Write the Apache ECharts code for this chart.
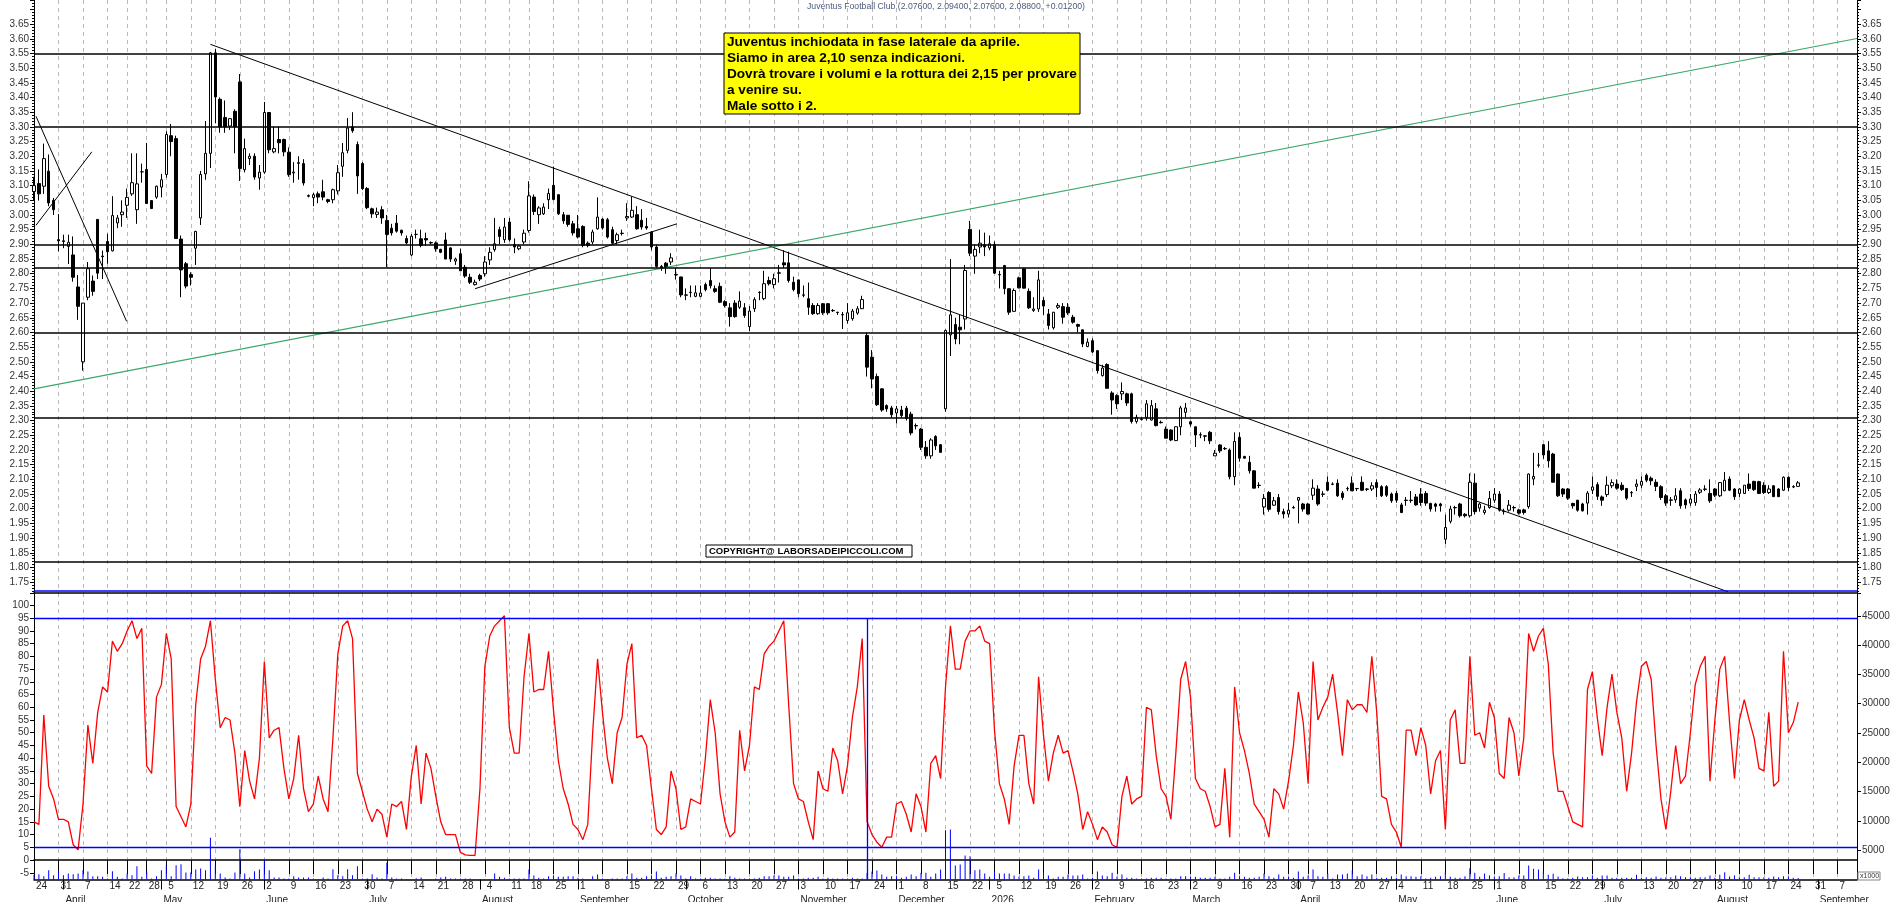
<!DOCTYPE html>
<html>
<head>
<meta charset="utf-8">
<title>Juventus Football Club</title>
<script src="https://cdn.jsdelivr.net/npm/echarts@6/dist/echarts.min.js"></script>
<style>
    html, body {
        height: 100%;
        width: 100%;
        margin: 0;
        padding: 0;
        background: #fff;
    }
    #chart {
        width: 100%;
        height: 100%;
    }
</style>
</head>
<body>
<div id="chart"></div>
<script>
/* trading calendar: first bar, exchange holidays, number of slots on the axis */
var firstDay = [2025, 3, 24];
var holidays = ['2025-04-18', '2025-04-21', '2025-05-01', '2025-08-15', '2025-12-24', '2025-12-25',
    '2025-12-26', '2025-12-31', '2026-01-01', '2026-04-03', '2026-04-06', '2026-05-01'];
var slotCount = 373;
var monthNames = ['January', 'February', 'March', 'April', 'May', 'June', 'July', 'August',
    'September', 'October', 'November', 'December'];

/* daily candles: [open, close, low, high] */
var candles = [
    // 24 Mar
    [3.08,3.10,3.05,3.13],[3.107,3.072,3.049,3.155],[3.098,3.192,3.072,3.243],[3.149,3.041,3.03,3.206],[3.05,3.018,3.0,3.058],
    // 31 Mar
    [2.916,2.912,2.876,3.003],[2.912,2.91,2.887,2.933],[2.893,2.907,2.833,2.933],[2.864,2.788,2.773,2.927],[2.755,2.689,2.643,2.796],
    // 7 Apr
    [2.50,2.70,2.47,2.70],[2.72,2.817,2.71,2.84],[2.775,2.74,2.725,2.794],[2.985,2.802,2.782,2.985],[2.86,2.858,2.782,2.879],
    // 14 Apr
    [2.91,2.875,2.834,2.936],[2.878,2.998,2.876,3.064],[2.973,2.99,2.955,3.0],[3.001,3.01,2.96,3.05],
    // 22 Apr
    [3.033,3.06,2.99,3.09],[3.072,3.11,3.065,3.21],[3.018,3.106,2.97,3.21],[3.147,3.147,3.11,3.175],
    // 28 Apr
    [3.155,3.039,3.038,3.245],[3.049,3.022,3.02,3.05],[3.061,3.098,3.055,3.10],[3.095,3.12,3.06,3.14],
    // 5 May
    [3.138,3.274,3.127,3.285],[3.27,3.25,3.20,3.31],[3.26,2.92,2.92,3.27],[2.918,2.813,2.72,2.93],[2.834,2.758,2.75,2.84],
    // 12 May
    [2.797,2.788,2.76,2.805],[2.887,2.944,2.83,2.946],[2.99,3.138,2.966,3.15],[3.14,3.21,3.12,3.32],[3.21,3.552,3.16,3.555],
    // 19 May
    [3.552,3.402,3.313,3.565],[3.394,3.30,3.28,3.40],[3.332,3.30,3.28,3.39],[3.303,3.328,3.29,3.33],[3.353,3.30,3.21,3.36],
    // 26 May
    [3.453,3.158,3.116,3.48],[3.154,3.226,3.145,3.26],[3.192,3.20,3.17,3.21],[3.20,3.129,3.12,3.21],[3.126,3.146,3.086,3.17],
    // 2 Jun
    [3.146,3.349,3.14,3.385],[3.349,3.222,3.21,3.35],[3.215,3.226,3.21,3.30],[3.257,3.246,3.21,3.30],[3.257,3.215,3.20,3.26],
    // 9 Jun
    [3.214,3.137,3.13,3.23],[3.143,3.146,3.11,3.18],[3.178,3.176,3.12,3.20],[3.175,3.109,3.10,3.19],[3.066,3.064,3.06,3.07],
    // 16 Jun
    [3.059,3.069,3.03,3.075],[3.072,3.061,3.04,3.08],[3.079,3.061,3.05,3.12],[3.052,3.046,3.04,3.055],[3.052,3.086,3.04,3.09],
    // 23 Jun
    [3.082,3.144,3.07,3.17],[3.166,3.212,3.13,3.245],[3.22,3.296,3.21,3.33],[3.30,3.287,3.28,3.35],[3.24,3.133,3.072,3.25],
    // 30 Jun
    [3.175,3.09,3.085,3.18],[3.09,3.025,3.02,3.095],[3.021,3.004,2.99,3.025],[3.002,3.01,2.99,3.025],[3.018,2.99,2.97,3.03],
    // 7 Jul
    [2.981,2.934,2.823,3.0],[2.955,2.939,2.93,2.97],[2.972,2.945,2.94,3.0],[2.948,2.939,2.93,2.95],[2.92,2.905,2.90,2.93],
    // 14 Jul
    [2.864,2.928,2.86,2.935],[2.934,2.934,2.92,2.95],[2.919,2.896,2.89,2.95],[2.92,2.915,2.895,2.94],[2.906,2.905,2.90,2.91],
    // 21 Jul
    [2.905,2.885,2.875,2.91],[2.883,2.873,2.87,2.885],[2.915,2.85,2.85,2.94],[2.888,2.85,2.84,2.89],[2.843,2.85,2.83,2.855],
    // 28 Jul
    [2.868,2.81,2.81,2.885],[2.822,2.792,2.786,2.83],[2.788,2.771,2.765,2.80],[2.763,2.771,2.76,2.78],[2.794,2.782,2.775,2.80],
    // 4 Aug
    [2.80,2.84,2.79,2.86],[2.847,2.873,2.83,2.89],[2.882,2.902,2.875,2.99],[2.95,2.927,2.90,2.96],[2.916,2.959,2.905,2.99],
    // 11 Aug
    [2.976,2.916,2.91,2.99],[2.90,2.891,2.87,2.92],[2.885,2.894,2.88,2.90],[2.908,2.938,2.90,2.95],
    // 18 Aug
    [2.947,3.065,2.94,3.115],[3.061,3.012,3.0,3.07],[3.001,3.024,2.97,3.03],[3.004,3.027,3.0,3.04],[3.052,3.073,3.02,3.09],
    // 25 Aug
    [3.101,3.053,3.05,3.165],[3.069,3.004,3.0,3.07],[3.001,2.98,2.97,3.01],[2.999,2.968,2.96,3.0],[2.97,2.939,2.93,2.98],
    // 1 Sep
    [2.953,2.925,2.92,3.0],[2.961,2.896,2.89,2.965],[2.904,2.896,2.89,2.91],[2.908,2.942,2.90,2.95],[2.953,2.993,2.95,3.06],
    // 8 Sep
    [2.986,2.956,2.95,2.99],[2.984,2.925,2.92,2.99],[2.95,2.904,2.90,2.96],[2.913,2.933,2.90,2.94],[2.938,2.937,2.93,2.95],
    // 15 Sep
    [2.99,2.995,2.98,3.04],[2.993,3.016,2.99,3.063],[3.001,2.953,2.95,3.03],[2.982,2.959,2.95,3.02],[2.961,2.956,2.95,2.99],
    // 22 Sep
    [2.942,2.891,2.88,2.945],[2.891,2.825,2.82,2.90],[2.825,2.819,2.81,2.83],[2.836,2.823,2.80,2.84],[2.84,2.854,2.83,2.87],
    // 29 Sep
    [2.797,2.796,2.78,2.82],[2.789,2.728,2.72,2.79],[2.728,2.727,2.71,2.75],[2.737,2.736,2.72,2.76],[2.723,2.735,2.72,2.76],
    // 6 Oct
    [2.723,2.734,2.72,2.76],[2.763,2.746,2.74,2.77],[2.777,2.759,2.75,2.82],[2.749,2.74,2.735,2.76],[2.757,2.703,2.70,2.77],
    // 13 Oct
    [2.705,2.692,2.685,2.71],[2.684,2.654,2.62,2.70],[2.70,2.654,2.65,2.71],[2.686,2.707,2.68,2.74],[2.684,2.658,2.65,2.70],
    // 20 Oct
    [2.62,2.673,2.605,2.69],[2.681,2.712,2.67,2.72],[2.737,2.736,2.71,2.74],[2.715,2.766,2.71,2.81],[2.777,2.766,2.76,2.79],
    // 27 Oct
    [2.763,2.783,2.75,2.80],[2.803,2.802,2.77,2.83],[2.837,2.83,2.82,2.88],[2.837,2.777,2.77,2.875],[2.771,2.746,2.74,2.79],
    // 3 Nov
    [2.779,2.732,2.72,2.78],[2.728,2.727,2.72,2.76],[2.715,2.686,2.66,2.77],[2.692,2.664,2.66,2.70],[2.664,2.692,2.66,2.70],
    // 10 Nov
    [2.698,2.667,2.66,2.70],[2.698,2.667,2.66,2.70],[2.675,2.674,2.67,2.68],[2.669,2.668,2.66,2.67],[2.661,2.66,2.612,2.67],
    // 17 Nov
    [2.641,2.667,2.63,2.70],[2.647,2.673,2.64,2.68],[2.666,2.681,2.66,2.69],[2.681,2.712,2.68,2.725],[2.59,2.482,2.45,2.60],
    // 24 Nov
    [2.516,2.442,2.41,2.54],[2.45,2.354,2.35,2.46],[2.408,2.336,2.33,2.41],[2.351,2.34,2.33,2.355],[2.343,2.32,2.31,2.35],
    // 1 Dec
    [2.326,2.34,2.29,2.35],[2.336,2.317,2.31,2.35],[2.342,2.308,2.30,2.35],[2.322,2.258,2.25,2.33],[2.283,2.282,2.27,2.29],
    // 8 Dec
    [2.271,2.209,2.20,2.275],[2.209,2.18,2.17,2.23],[2.18,2.234,2.17,2.24],[2.246,2.214,2.20,2.25],[2.218,2.192,2.19,2.22],
    // 15 Dec
    [2.34,2.607,2.33,2.61],[2.592,2.66,2.52,2.85],[2.627,2.578,2.56,2.65],[2.618,2.609,2.56,2.66],[2.646,2.811,2.61,2.83],
    // 22 Dec - 2 Jan
    [2.951,2.87,2.86,2.98],[2.86,2.883,2.80,2.90],[2.891,2.904,2.87,2.95],[2.899,2.891,2.86,2.94],[2.888,2.902,2.88,2.93],
    // 5 Jan
    [2.90,2.802,2.80,2.91],[2.797,2.796,2.75,2.81],[2.828,2.749,2.73,2.83],[2.749,2.669,2.66,2.75],[2.672,2.743,2.67,2.75],
    // 12 Jan
    [2.786,2.752,2.75,2.79],[2.817,2.751,2.75,2.82],[2.74,2.684,2.68,2.75],[2.675,2.68,2.67,2.72],[2.68,2.779,2.67,2.81],
    // 19 Jan
    [2.709,2.69,2.66,2.72],[2.663,2.624,2.61,2.68],[2.616,2.669,2.61,2.67],[2.686,2.692,2.68,2.70],[2.688,2.652,2.63,2.70],
    // 26 Jan
    [2.686,2.667,2.66,2.70],[2.652,2.635,2.63,2.66],[2.627,2.621,2.60,2.63],[2.609,2.561,2.55,2.61],[2.552,2.567,2.55,2.58],
    // 2 Feb
    [2.572,2.534,2.53,2.58],[2.538,2.47,2.46,2.54],[2.453,2.479,2.45,2.49],[2.491,2.41,2.41,2.495],[2.394,2.37,2.32,2.40],
    // 9 Feb
    [2.385,2.357,2.34,2.39],[2.391,2.399,2.37,2.43],[2.391,2.36,2.35,2.395],[2.391,2.297,2.29,2.395],[2.297,2.311,2.29,2.32],
    // 16 Feb
    [2.305,2.304,2.30,2.31],[2.311,2.357,2.30,2.37],[2.302,2.351,2.30,2.37],[2.34,2.283,2.28,2.36],[2.294,2.293,2.29,2.30],
    // 23 Feb
    [2.271,2.24,2.24,2.28],[2.268,2.234,2.23,2.27],[2.232,2.279,2.23,2.28],[2.279,2.343,2.25,2.35],[2.328,2.343,2.31,2.36],
    // 2 Mar
    [2.296,2.288,2.28,2.30],[2.279,2.251,2.21,2.28],[2.252,2.251,2.24,2.26],[2.248,2.247,2.23,2.25],[2.26,2.231,2.22,2.265],
    // 9 Mar
    [2.18,2.189,2.18,2.20],[2.217,2.197,2.19,2.22],[2.205,2.204,2.20,2.21],[2.20,2.109,2.10,2.205],[2.109,2.229,2.08,2.26],
    // 16 Mar
    [2.243,2.172,2.16,2.26],[2.178,2.172,2.17,2.18],[2.158,2.129,2.12,2.18],[2.129,2.07,2.07,2.13],[2.08,2.079,2.07,2.09],
    // 23 Mar
    [2.006,2.035,1.98,2.05],[2.055,1.998,1.99,2.06],[2.012,2.027,2.01,2.04],[2.038,1.99,1.98,2.05],[1.99,1.982,1.967,2.00],
    // 30 Mar
    [1.982,1.995,1.97,2.02],[2.004,2.003,2.0,2.01],[2.029,2.038,1.95,2.04],[2.016,1.999,1.99,2.02],
    // 7 Apr
    [2.016,1.982,1.98,2.02],[2.046,2.07,2.03,2.10],[2.067,2.016,2.01,2.08],[2.05,2.049,2.04,2.06],
    // 13 Apr
    [2.09,2.063,2.06,2.11],[2.084,2.083,2.08,2.09],[2.087,2.044,2.04,2.10],[2.053,2.038,2.03,2.06],[2.069,2.068,2.06,2.075],
    // 20 Apr
    [2.087,2.061,2.06,2.11],[2.069,2.068,2.06,2.07],[2.09,2.063,2.06,2.11],[2.067,2.066,2.06,2.07],[2.067,2.078,2.06,2.09],
    // 27 Apr
    [2.089,2.072,2.04,2.10],[2.075,2.044,2.04,2.08],[2.075,2.046,2.04,2.08],[2.05,2.027,2.02,2.055],
    // 4 May
    [2.052,2.029,2.02,2.06],[2.013,1.987,1.985,2.02],[2.029,2.028,2.01,2.04],[2.029,2.028,2.02,2.06],[2.04,2.013,2.01,2.05],
    // 11 May
    [2.05,2.021,2.01,2.07],[2.052,2.019,2.01,2.06],[2.018,1.999,1.99,2.02],[2.016,2.008,1.99,2.02],[2.016,2.01,1.99,2.02],
    // 18 May
    [1.896,1.936,1.88,1.98],[1.957,1.999,1.95,2.01],[2.004,2.003,1.98,2.01],[2.016,1.976,1.97,2.02],[1.981,1.976,1.97,1.985],
    // 25 May
    [1.976,2.09,1.97,2.12],[2.087,1.99,1.98,2.12],[2.002,2.016,1.99,2.02],[1.987,1.995,1.98,2.01],[2.004,2.035,2.0,2.06],
    // 1 Jun
    [2.029,2.05,2.02,2.07],[2.05,1.995,1.99,2.06],[1.99,1.991,1.98,2.0],[1.995,2.012,1.99,2.03],[2.004,2.003,1.99,2.01],
    // 8 Jun
    [1.996,1.985,1.98,2.0],[1.996,1.987,1.98,2.0],[2.007,2.118,2.0,2.12],[2.101,2.11,2.08,2.19],[2.149,2.148,2.14,2.19],
    // 15 Jun
    [2.218,2.183,2.17,2.22],[2.197,2.163,2.14,2.23],[2.186,2.09,2.09,2.19],[2.118,2.044,2.04,2.12],[2.067,2.05,2.04,2.07],
    // 22 Jun
    [2.067,2.036,2.03,2.07],[2.018,2.01,2.0,2.02],[2.029,1.995,1.99,2.03],[2.016,1.993,1.99,2.02],[2.019,2.053,1.98,2.06],
    // 29 Jun
    [2.063,2.074,2.05,2.11],[2.082,2.042,2.03,2.09],[2.04,2.029,2.01,2.045],[2.048,2.08,2.04,2.11],[2.078,2.089,2.07,2.10],
    // 6 Jul
    [2.084,2.07,2.065,2.10],[2.08,2.065,2.06,2.09],[2.069,2.036,2.03,2.07],[2.055,2.054,2.04,2.06],[2.076,2.084,2.06,2.10],
    // 13 Jul
    [2.08,2.093,2.07,2.11],[2.114,2.097,2.09,2.12],[2.104,2.095,2.08,2.11],[2.09,2.076,2.06,2.10],[2.075,2.038,2.03,2.08],
    // 20 Jul
    [2.044,2.019,2.01,2.05],[2.03,2.029,2.01,2.04],[2.03,2.044,2.02,2.07],[2.061,2.01,2.0,2.07],[2.03,2.013,2.0,2.035],
    // 27 Jul
    [2.019,2.033,2.01,2.05],[2.021,2.05,2.01,2.06],[2.056,2.064,2.05,2.07],[2.067,2.066,2.06,2.08],[2.052,2.027,2.02,2.10],
    // 3 Aug
    [2.067,2.046,2.04,2.07],[2.044,2.089,2.04,2.09],[2.061,2.097,2.06,2.125],[2.101,2.063,2.06,2.11],[2.067,2.041,2.03,2.07],
    // 10 Aug
    [2.052,2.067,2.04,2.07],[2.052,2.08,2.05,2.08],[2.084,2.069,2.06,2.12],[2.093,2.065,2.06,2.095],[2.092,2.052,2.05,2.095],
    // 17 Aug
    [2.08,2.055,2.05,2.09],[2.055,2.067,2.05,2.08],[2.078,2.041,2.04,2.08],[2.067,2.041,2.04,2.07],[2.063,2.107,2.06,2.11],
    // 24 Aug
    [2.107,2.072,2.06,2.11],[2.075,2.074,2.07,2.08],[2.076,2.088,2.076,2.094]
];

/* oscillator (0-100), one value per bar */
var stoch = [
    15,14,57,29,24,16,16,15,6,4,        22,53,38,58,68,66,86,82,85,90,
    94,87,91,37,34,64,69,89,79,21,      17,13,22,61,79,84,94,71,52,56,
    55,42,21,43,31,24,40,78,48,51,      52,36,24,32,49,28,19,22,33,24,
    19,48,81,92,94,87,34,27,20,15,      20,18,9,22,21,23,12,33,45,22,
    42,36,25,15,10,10,10,3,2,1.8,       1.8,28,76,88,92,94,96,52,42,42,
    72,89,66,67,67,82,59,39,28,22,      14,12,8,14,50,79,58,40,30,50,
    56,77,85,48,49,45,28,12,10,13,      35,28,12,13,24,23,22,40,63,50,
    26,15,9,11,51,35,45,68,67,81,       84,86,90,94,61,30,24,23,15,8,
    35,28,27,44,39,26,37,56,68,87,      15,10,7,5,9,9,22,23,18,11,
    26,21,11,38,41,32,68,92,75,75,      86,90,90,92,86,85,51,30,24,14,
    37,49,49,30,22,72,49,31,42,49,      42,43,35,26,12,19,14,8,13,11,
    6,5,25,33,22,24,25,60,59,41,        28,25,16,42,71,78,64,32,28,27,
    21,13,14,36,9,68,50,43,34,22,       19,16,9,28,26,20,31,45,66,54,
    30,78,55,60,64,73,58,41,63,59,      61,61,58,80,58,25,24,14,11,5,
    51,51,41,52,45,26,39,43,12,55,      59,38,38,80,49,50,44,62,56,34,
    32,56,50,33,48,89,82,88,91,77,      42,27,27,21,15,14,13,67,74,56,
    41,60,73,58,48,27,42,62,76,78,      71,45,24,12,27,45,30,33,50,69,
    76,80,31,55,75,80,54,32,55,63,      55,48,36,35,58,29,31,82,50,54,
    62
];

/* volume, thousands of shares */
var volume = [
    800,910,569,1593,740,1480,740,1024,910,1024,      1593,1366,569,569,455,171,1422,455,171,1024,
    740,2276,455,1422,171,569,1593,2447,569,2447,     2617,1195,1195,1707,1878,1593,7112,2447,1024,341,
    171,1195,5178,1024,341,1422,1707,3300,1593,341,   341,171,171,569,341,341,341,171,100,341,
    171,1764,740,569,1764,740,2276,171,171,910,       341,171,2845,341,171,171,100,100,200,341,
    100,100,150,341,455,171,171,150,171,171,          100,100,100,100,1024,455,284,171,171,171,
    171,1707,682,284,171,569,682,455,455,569,         569,284,171,100,569,853,171,100,171,171,
    171,569,1024,284,284,569,682,1365,284,455,        569,1024,682,171,569,171,171,284,284,171,
    171,171,569,284,171,171,171,171,284,569,          569,682,682,455,455,682,171,171,284,284,
    455,171,284,171,171,171,171,284,171,171,          1100,1365,1536,853,455,569,569,284,455,853,
    569,1138,1138,455,1024,1707,8421,8535,2390,2560,  4097,3983,1593,1707,1024,455,1422,1024,1024,1024,
    682,455,569,682,284,1707,1252,682,171,455,        455,853,682,682,853,171,284,1365,682,569,
    1138,455,853,284,284,171,171,150,284,284,         284,171,171,171,569,569,455,455,284,284,
    284,455,171,171,455,1138,569,455,284,284,         455,1024,569,284,853,455,455,284,1365,455,
    682,1707,569,455,1024,171,853,853,1024,1536,      569,853,569,853,284,284,284,569,284,853,
    569,569,455,569,171,284,455,569,1365,455,         284,284,569,1934,1138,455,1024,682,455,569,
    1100,398,400,683,683,2390,1821,1707,1366,796,     967,512,228,228,284,512,398,398,683,284,
    683,683,284,284,284,284,284,796,284,398,          284,512,284,398,398,683,569,398,398,284,
    398,398,683,284,796,1252,512,683,398,398,         796,398,398,398,284,512,398,569,512,300,
    250
];

/* drawn levels and trend lines (bar index, price) */
var levels = [3.548, 3.30, 2.905, 2.82, 2.60, 2.31, 1.822];
var blueLevel = 1.72;
var trendLines = [
    [[0.41, 3.336], [18.9, 2.638]],
    [[0.41, 2.965], [11.8, 3.215]],
    [[36, 3.581], [345.7, 1.717]],
    [[90, 2.749], [131.2, 2.97]]
];
var greenLine = [[0, 2.408], [372, 3.601]];
var oscBands = [95, 5];
var markerBar = 170;

var titleText = 'Juventus Football Club (2.07600, 2.09400, 2.07600, 2.08800, +0.01200)';
var noteLines = [
    'Juventus inchiodata in fase laterale da aprile.',
    'Siamo in area 2,10 senza indicazioni.',
    'Dovrà trovare i volumi e la rottura dei 2,15 per provare',
    'a venire su.',
    'Male sotto i 2.'
];
var copyrightText = 'COPYRIGHT@ LABORSADEIPICCOLI.COM';

/* build the trading-day axis */
function pad(n) { return (n < 10 ? '0' : '') + n; }
var days = [];
var t = Date.UTC(firstDay[0], firstDay[1] - 1, firstDay[2]);
while (days.length < slotCount) {
    var dt = new Date(t);
    var wd = dt.getUTCDay();
    var key = dt.getUTCFullYear() + '-' + pad(dt.getUTCMonth() + 1) + '-' + pad(dt.getUTCDate());
    if (wd > 0 && wd < 6 && holidays.indexOf(key) < 0) {
        days.push({key: key, y: dt.getUTCFullYear(), m: dt.getUTCMonth(), d: dt.getUTCDate(), wd: wd});
    }
    t += 86400000;
}
var categories = days.map(function (x) { return x.key; });

// first bar of each week; a week mark closer than 4 bars to the previous one is skipped
var weekMark = {};
var lastMark = -10;
days.forEach(function (x, i) {
    if ((i === 0 || x.wd <= days[i - 1].wd) && i - lastMark >= 4) {
        weekMark[i] = true;
        lastMark = i;
    }
});
var monthMark = {};
days.forEach(function (x, i) {
    if (i > 0 && x.m !== days[i - 1].m) monthMark[i] = true;
});
function isWeek(i) { return !!weekMark[i]; }
function isMonth(i) { return !!monthMark[i]; }

var font = '"Liberation Sans", Arial, sans-serif';
var labelColor = '#333';
var gridLine = {show: true, interval: isWeek, lineStyle: {color: '#b8b8b8', type: [4, 4], width: 1}};

var priceMin = 1.713, priceMax = 3.732;

function priceAxis(pos) {
    return {
        type: 'value', gridIndex: 0, position: pos, min: priceMin, max: priceMax, splitNumber: 40,
        axisLine: {show: true, lineStyle: {color: '#000', width: 1}},
        axisTick: {show: true, length: 4, lineStyle: {color: '#000'}},
        minorTick: {show: true, splitNumber: 5, length: 2, lineStyle: {color: '#000'}},
        splitLine: {show: false},
        axisLabel: {
            showMinLabel: false, showMaxLabel: false, margin: 5,
            fontSize: 10, color: labelColor, fontFamily: font,
            formatter: function (v) { return (v > 3.66 || v < 1.74) ? '' : v.toFixed(2); }
        }
    };
}

var myChart = echarts.init(document.getElementById('chart'));

var series = [{
    name: 'price',
    type: 'candlestick',
    xAxisIndex: 0,
    yAxisIndex: 0,
    data: candles,
    barWidth: 3,
    itemStyle: {color: '#fff', color0: '#000', borderColor: '#000', borderColor0: '#000', borderWidth: 1},
    markLine: {
        silent: true, symbol: 'none', label: {show: false},
        lineStyle: {color: '#000', width: 1.5, type: 'solid'},
        data: levels.map(function (v) { return {yAxis: v}; }).concat([
            {yAxis: blueLevel, lineStyle: {color: '#0000ff', width: 1.5, type: 'solid'}}
        ])
    }
}];

trendLines.forEach(function (seg) {
    series.push({
        type: 'line', xAxisIndex: 3, yAxisIndex: 0, data: seg, symbol: 'none', silent: true,
        lineStyle: {color: '#000', width: 1}
    });
});
series.push({
    type: 'line', xAxisIndex: 3, yAxisIndex: 0, data: greenLine, symbol: 'none', silent: true,
    lineStyle: {color: '#3aa86a', width: 1.2}
});

series.push({
    name: 'volume',
    type: 'bar',
    xAxisIndex: 1,
    yAxisIndex: 3,
    data: volume,
    barWidth: 1,
    itemStyle: {color: '#0000ff'}
});

series.push({
    name: 'oscillator',
    type: 'line',
    xAxisIndex: 1,
    yAxisIndex: 2,
    data: stoch,
    symbol: 'none',
    lineStyle: {color: '#ff0000', width: 1.3},
    markLine: {
        silent: true, symbol: 'none', label: {show: false},
        lineStyle: {color: '#0000ff', width: 1.3, type: 'solid'},
        data: oscBands.map(function (v) { return {yAxis: v}; }).concat([
            [{coord: [markerBar, oscBands[0]]}, {coord: [markerBar, -7.65]}]
        ])
    }
});

var option = {
    animation: false,
    backgroundColor: '#fff',
    textStyle: {fontFamily: font},
    grid: [
        {left: 34, right: 33, top: 0, height: 593, outerBoundsMode: 'none'},
        {left: 34, right: 33, top: 593, height: 286.5, outerBoundsMode: 'none'}
    ],
    xAxis: [
        {
            type: 'category', gridIndex: 0, data: categories, boundaryGap: false,
            axisLine: {show: true, lineStyle: {color: '#000', width: 1.5}},
            axisTick: {show: false}, axisLabel: {show: false},
            splitLine: gridLine
        },
        {
            type: 'category', gridIndex: 1, data: categories, boundaryGap: false,
            axisLine: {show: true, lineStyle: {color: '#000', width: 1.5}},
            axisTick: {show: true, interval: isWeek, length: 14, lineStyle: {color: '#000'}},
            axisLabel: {
                interval: isWeek, align: 'left', margin: 2, padding: [0, 0, 0, 2],
                fontSize: 10, color: '#222', fontFamily: font,
                formatter: function (v) { return String(+v.slice(8)); }
            },
            splitLine: gridLine
        },
        {
            type: 'category', gridIndex: 1, data: categories, boundaryGap: false,
            position: 'bottom', offset: 14,
            axisLine: {show: true, lineStyle: {color: '#000', width: 1.5}},
            axisTick: {show: true, interval: isMonth, length: 10, lineStyle: {color: '#000'}},
            axisLabel: {
                interval: isMonth, align: 'left', margin: 2, padding: [0, 0, 0, 2],
                fontSize: 10, color: '#222', fontFamily: font,
                formatter: function (v) {
                    var m = +v.slice(5, 7) - 1;
                    return m === 0 ? v.slice(0, 4) : monthNames[m];
                }
            },
            splitLine: {show: false}
        },
        {type: 'value', gridIndex: 0, min: 0, max: slotCount - 1, show: false}
    ],
    yAxis: [
        priceAxis('left'),
        priceAxis('right'),
        {
            type: 'value', gridIndex: 1, position: 'left', min: -7.65, max: 104.9, splitNumber: 22,
            axisLine: {show: true, lineStyle: {color: '#000', width: 1}},
            axisTick: {show: true, length: 4, lineStyle: {color: '#000'}},
            splitLine: {show: false},
            axisLabel: {showMinLabel: false, showMaxLabel: false, margin: 5, fontSize: 10, color: labelColor, fontFamily: font}
        },
        {
            type: 'value', gridIndex: 1, position: 'right', min: 0, max: 48890, interval: 5000,
            axisLine: {show: true, lineStyle: {color: '#000', width: 1}},
            axisTick: {show: true, length: 4, lineStyle: {color: '#000'}},
            splitLine: {show: false},
            axisLabel: {
                showMinLabel: false, showMaxLabel: false, margin: 5, fontSize: 10, color: labelColor, fontFamily: font,
                formatter: function (v) { return String(v); }
            }
        }
    ],
    graphic: [
        {
            type: 'text', x: 807, y: 2, z: 100,
            style: {text: titleText, fontSize: 8.7, fontFamily: font, fill: '#4d5a7a'}
        },
        {
            type: 'rect', z: 100, shape: {x: 724, y: 33, width: 356, height: 81},
            style: {fill: '#ffff00', stroke: '#000', lineWidth: 1}
        },
        {
            type: 'text', x: 727, y: 34, z: 101,
            style: {text: noteLines.join('\n'), fontSize: 13.6, fontWeight: 'bold', fontFamily: font, fill: '#000', lineHeight: 16}
        },
        {
            type: 'rect', z: 100, shape: {x: 706, y: 545, width: 206, height: 12},
            style: {fill: '#fff', stroke: '#000', lineWidth: 1}
        },
        {
            type: 'text', x: 709, y: 546, z: 101,
            style: {text: copyrightText, fontSize: 9.5, fontWeight: 'bold', fontFamily: font, fill: '#000', lineHeight: 11}
        },
        {
            type: 'rect', z: 100, shape: {x: 1858, y: 872, width: 22, height: 8},
            style: {fill: '#fff', stroke: '#888', lineWidth: 1}
        },
        {
            type: 'text', x: 1860, y: 872.5, z: 101,
            style: {text: 'x1000', fontSize: 7, fontFamily: font, fill: '#333', lineHeight: 7}
        }
    ],
    series: series
};

myChart.setOption(option);
</script>
</body>
</html>
